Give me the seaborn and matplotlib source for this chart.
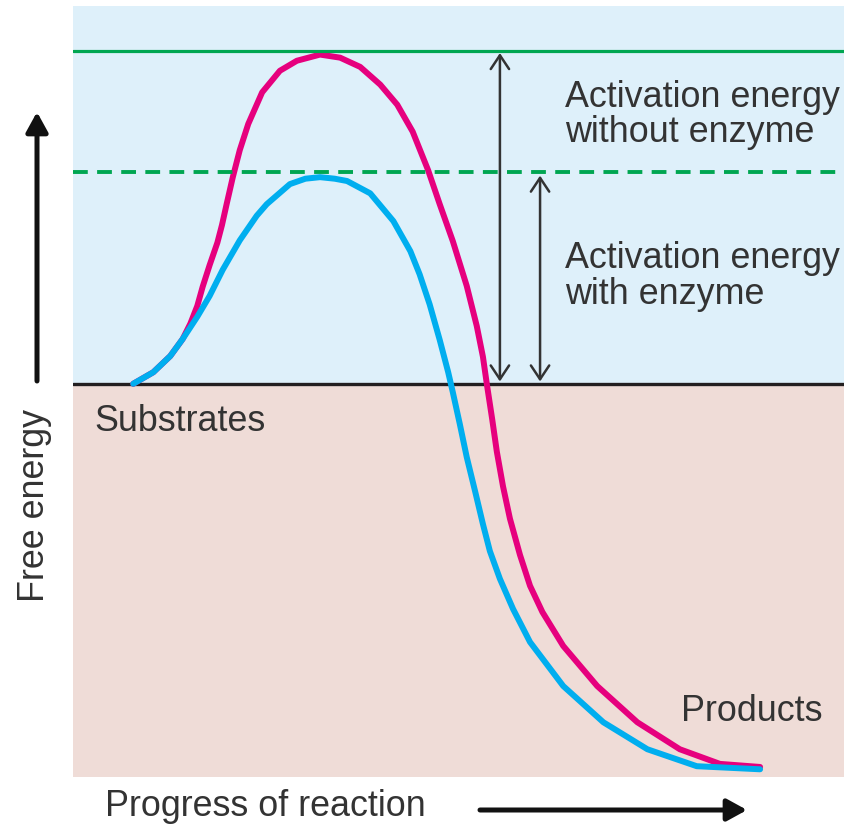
import matplotlib
matplotlib.use("Agg")
import matplotlib.pyplot as plt
import seaborn as sns
import pandas as pd

# reaction progress (0-100) and free energy (0-100)
progress_no_enzyme = [7.8, 10.4, 12.6, 14.2, 15.2, 16.1, 16.8, 17.7, 18.7, 19.3, 19.9, 20.7,
                      21.6, 22.7, 24.5, 26.8, 29.0, 32.0, 34.6, 37.2, 39.8, 42.0, 44.0, 46.0,
                      47.5, 49.2, 51.0, 52.3, 53.1, 53.6, 54.3, 54.9, 55.7, 56.6, 57.9, 59.2,
                      60.8, 63.5, 67.9, 73.1, 78.6, 83.8, 89.0]
energy_no_enzyme = [51.0, 52.5, 54.6, 56.8, 58.8, 61.1, 63.6, 66.4, 69.3, 71.6, 74.3, 77.8,
                    81.3, 84.7, 88.8, 91.6, 92.9, 93.7, 93.3, 92.1, 89.8, 87.2, 83.7, 78.7,
                    74.3, 69.5, 63.7, 58.5, 54.5, 51.0, 46.4, 42.2, 37.7, 33.5, 28.8, 24.8,
                    21.4, 17.0, 11.8, 7.1, 3.6, 1.7, 1.3]

progress_enzyme = [7.8, 10.4, 12.6, 14.2, 16.1, 17.7, 19.4, 21.6, 23.8, 25.1, 28.1, 30.1,
                   32.0, 33.9, 35.5, 38.5, 41.5, 43.7, 44.9, 46.2, 47.5, 48.6, 49.2, 50.1,
                   51.0, 52.1, 53.1, 54.0, 55.3, 57.0, 59.2, 63.5, 68.7, 74.4, 80.8, 89.0]
energy_enzyme = [51.0, 52.5, 54.6, 56.8, 59.7, 62.4, 65.8, 69.6, 72.8, 74.3, 76.9, 77.6,
                 77.8, 77.6, 77.3, 75.7, 72.1, 68.2, 65.2, 61.3, 56.7, 52.5, 49.9, 45.8,
                 41.5, 37.0, 32.8, 29.3, 25.7, 21.8, 17.5, 11.8, 7.1, 3.6, 1.4, 1.0]

substrate_level = 51.0
peak_no_enzyme = 94.2
peak_enzyme = 78.5

labels = ["Activation energy\nwithout enzyme", "Activation energy\nwith enzyme",
          "Substrates", "Products"]

df_no = pd.DataFrame({"progress": progress_no_enzyme, "energy": energy_no_enzyme})
df_en = pd.DataFrame({"progress": progress_enzyme, "energy": energy_enzyme})

sns.set_style("white")
plt.rcParams["font.family"] = ["Liberation Sans", "DejaVu Sans"]

fig = plt.figure(figsize=(8.45, 8.29), dpi=100)
ax = fig.add_axes([73 / 845, 1 - 778 / 829, 772 / 845, 771 / 829])
ax.set_xlim(0, 100)
ax.set_ylim(0, 100)
ax.set_facecolor("#efdcd7")
ax.axhspan(substrate_level, 100, color="#def0fa", zorder=0, lw=0)

sns.lineplot(data=df_no, x="progress", y="energy", ax=ax, color="#e6007e", lw=4.3,
             sort=False, estimator=None, solid_capstyle="round",
             solid_joinstyle="round", zorder=3)
sns.lineplot(data=df_en, x="progress", y="energy", ax=ax, color="#00aeef", lw=4.3,
             sort=False, estimator=None, solid_capstyle="round",
             solid_joinstyle="round", zorder=4)

ax.axhline(peak_no_enzyme, color="#00a651", lw=2.3, zorder=5)
ax.axhline(peak_enzyme, color="#00a651", lw=2.8, dashes=(3.8, 2.4), zorder=5)
ax.axhline(substrate_level, color="#231f20", lw=2.4, zorder=2)

arrow_kw = dict(arrowstyle="<->,head_length=0.45,head_width=0.3", lw=1.8,
                color="#333333", mutation_scale=22, shrinkA=0, shrinkB=0)
ax.annotate("", xy=(55.3, peak_no_enzyme - 0.3), xytext=(55.3, substrate_level + 0.3),
            arrowprops=arrow_kw, zorder=6)
ax.annotate("", xy=(60.5, peak_enzyme - 0.5), xytext=(60.5, substrate_level + 0.3),
            arrowprops=arrow_kw, zorder=6)

txt = dict(color="#333333", fontsize=25.8, linespacing=1.03)
ax.text(63.7, 86.0, labels[0], va="center", ha="left", **txt)
ax.text(63.7, 65.0, labels[1], va="center", ha="left", **txt)
ax.text(2.8, 46.3, labels[2], va="center", ha="left", **txt)
ax.text(78.7, 8.6, labels[3], va="center", ha="left", **txt)

ax.set_xlabel("")
ax.set_ylabel("")
ax.set_xticks([])
ax.set_yticks([])
for s in ax.spines.values():
    s.set_visible(False)

# axis arrows drawn in figure space
fig.text(35 / 845, 1 - 505 / 829, "Free energy", rotation=90, ha="center", va="center",
         color="#333333", fontsize=25.8)
fig.text(105 / 845, 1 - 807 / 829, "Progress of reaction", ha="left", va="center",
         color="#333333", fontsize=25.8)
big_arrow = dict(arrowstyle="-|>,head_length=0.6,head_width=0.33", lw=3.6,
                 color="#111111", mutation_scale=20, shrinkA=0, shrinkB=0)
fig.add_artist(matplotlib.patches.FancyArrowPatch(
    (37 / 845, 1 - 382 / 829), (37 / 845, 1 - 113 / 829),
    transform=fig.transFigure, **big_arrow))
fig.add_artist(matplotlib.patches.FancyArrowPatch(
    (480 / 845, 1 - 811 / 829), (747 / 845, 1 - 811 / 829),
    transform=fig.transFigure, **big_arrow))

fig.savefig("out.png", dpi=100, facecolor="white")
